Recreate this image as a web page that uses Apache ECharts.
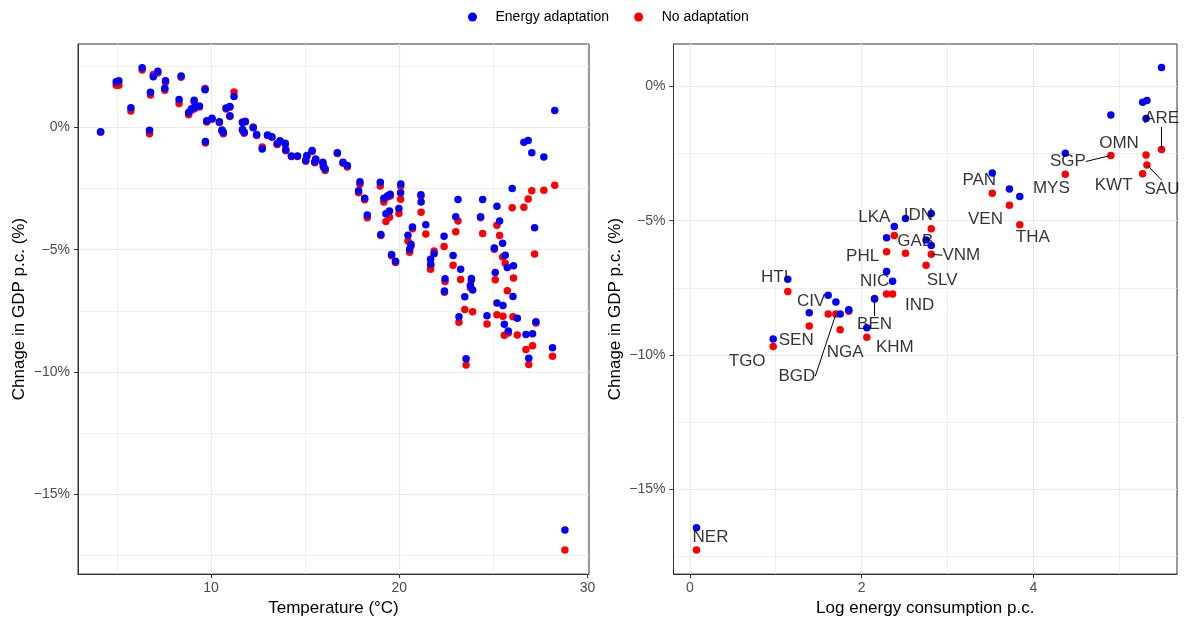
<!DOCTYPE html>
<html><head><meta charset="utf-8">
<script src="https://cdn.jsdelivr.net/npm/echarts@6/dist/echarts.min.js"></script>
<style>html,body{margin:0;padding:0;background:#fff}#c{width:1184px;height:622px}</style>
</head><body><div id="c"></div>
<script>
// ---- Left panel: temperature vs change in GDP p.c. (%) ----
const tempC = [4.13,4.96,5.10,5.74,6.34,6.73,6.78,6.93,7.17,7.58,7.54,8.41,8.30,8.81,8.96,9.10,9.12,9.38,9.68,9.70,
  9.77,10.05,10.44,10.58,10.65,10.80,11.00,11.00,11.22,11.67,11.82,11.67,11.76,12.24,12.42,12.72,13.00,13.23,13.51,13.66,
  13.94,13.97,14.27,14.59,15.03,15.09,15.37,15.51,15.56,15.94,15.97,16.06,16.71,17.01,17.24,17.91,17.84,18.16,18.30,18.99,
  19.18,19.38,19.52,19.29,19.48,19.02,20.08,20.07,19.98,19.59,19.80,21.15,21.16,20.70,20.46,20.62,20.55,21.41,21.66,21.85,
  21.67,22.38,22.86,22.43,22.40,23.26,23.12,23.00,23.83,23.78,23.90,23.48,23.17,23.55,24.43,24.32,24.66,25.19,25.33,25.05,
  25.49,25.63,25.74,26.07,25.10,26.04,25.19,25.51,26.27,25.58,25.79,26.73,27.08,27.26,26.88,28.14,27.19,28.26,27.68,27.04,
  26.85,26.62,26.00,28.80];
const tempEnergyAdapt = [-0.18,1.87,1.91,0.80,2.44,-0.12,1.44,2.07,2.30,1.91,1.60,2.10,1.14,0.61,0.76,1.11,0.81,0.88,1.54,-0.58,
  0.27,0.37,0.23,-0.11,-0.20,0.79,0.86,0.48,1.26,0.20,0.23,-0.09,-0.20,-0.01,-0.29,-0.88,-0.31,-0.38,-0.66,-0.54,
  -0.65,-0.91,-1.17,-1.17,-1.34,-1.15,-0.94,-1.40,-1.29,-1.42,-1.59,-1.69,-1.04,-1.42,-1.56,-2.22,-2.59,-2.90,-3.58,-2.24,
  -2.90,-2.79,-2.73,-3.53,-3.42,-4.38,-2.31,-2.67,-3.31,-5.19,-5.47,-2.75,-3.05,-4.07,-4.41,-4.78,-4.98,-3.98,-5.39,-5.16,
  -5.59,-4.45,-5.24,-6.19,-6.69,-5.80,-2.95,-3.65,-6.18,-6.45,-6.65,-6.92,-7.74,-9.46,-2.95,-3.65,-7.70,-3.22,-3.83,-4.93,
  -4.74,-5.23,-5.73,-5.66,-5.93,-6.91,-7.18,-7.28,-7.80,-8.05,-8.32,-8.47,-8.43,-7.94,-9.44,-9.01,-4.10,0.69,-1.21,-1.04,
  -0.53,-0.61,-2.50,-16.46];
const tempNoAdapt = [-0.20,1.72,1.72,0.67,2.35,-0.26,1.33,2.16,2.22,1.85,1.52,2.05,0.98,0.52,0.70,1.05,0.76,0.83,1.59,-0.64,
  0.22,0.33,0.20,-0.15,-0.26,0.75,0.82,0.45,1.45,0.22,0.25,-0.12,-0.24,0.02,-0.33,-0.80,-0.33,-0.40,-0.70,-0.58,
  -0.70,-0.95,-1.19,-1.19,-1.38,-1.18,-0.98,-1.44,-1.32,-1.46,-1.63,-1.76,-1.07,-1.46,-1.62,-2.32,-2.67,-2.96,-3.69,-2.39,
  -3.05,-2.84,-2.80,-3.85,-3.67,-4.42,-2.40,-2.94,-3.52,-5.25,-5.52,-2.80,-3.47,-4.14,-4.64,-4.85,-5.10,-4.36,-5.80,-5.05,
  -5.65,-4.87,-5.63,-6.30,-6.74,-6.22,-3.83,-4.26,-6.25,-6.55,-7.54,-7.44,-7.96,-9.71,-4.34,-3.69,-8.04,-4.00,-4.42,-4.98,
  -5.30,-5.55,-6.68,-6.16,-6.23,-7.74,-7.66,-7.72,-8.49,-8.50,-8.40,-9.08,-8.93,-8.00,-9.69,-9.35,-5.17,-2.36,-2.57,-2.59,
  -2.93,-3.26,-3.28,-17.27];

// ---- Right panel: log energy consumption vs change in GDP p.c. (%) ----
const countryCodes = ['NER','TGO','HTI','SEN','CIV','BGD','NGA','','KHM','BEN','IND','PHL','NIC','LKA','IDN','SLV','GAB','VNM',
  'PAN','VEN','THA','MYS','SGP','KWT','OMN','SAU','ARE'];
const logEnergy = [0.078,0.97,1.14,1.39,1.61,1.70,1.75,1.85,2.06,2.15,2.29,2.29,2.36,2.38,2.51,2.75,2.81,2.81,
  3.52,3.72,3.84,4.37,4.90,5.27,5.31,5.32,5.49];
const energyAdapt = [-16.44,-9.41,-7.18,-8.43,-7.78,-8.03,-8.48,-8.32,-8.99,-7.92,-6.89,-5.64,-7.26,-5.22,-4.92,-5.72,-4.73,-5.92,
  -3.22,-3.82,-4.10,-2.49,-1.06,-0.59,-1.19,-0.52,0.71];
const noAdapt = [-17.27,-9.69,-7.64,-8.92,-8.48,-8.48,-9.06,-8.37,-9.34,-7.90,-7.73,-6.16,-7.73,-5.55,-6.21,-6.66,-5.30,-6.25,
  -3.98,-4.42,-5.15,-3.27,-2.57,-3.25,-2.55,-2.92,-2.35];

// tick labels
const xTicksLeft = [10, 20, 30];
const xTicksRight = [0, 2, 4];
const yTicks = [-15, -10, -5, 0];

// label placement (pixel offsets from the point) and which labels get a leader line
const labelOffsets = {NER:[14,-13],TGO:[-26,15],HTI:[-13,-14],SEN:[-13,14],CIV:[-17,-13],BGD:[-39,62],NGA:[5,23],
  KHM:[28,10],BEN:[0,26],IND:[33,11],PHL:[-24,4],NIC:[-18,-13],LKA:[-20,-18],IDN:[13,-38],SLV:[16,15],GAB:[-16,13],
  VNM:[30,1],PAN:[-13,-13],VEN:[-24,14],THA:[13,13],MYS:[-14,14],SGP:[-43,6],KWT:[-29,12],OMN:[-27,-12],SAU:[15,24],ARE:[0,-31]};
const withLine = ['BGD','BEN','VNM','SGP','SAU','ARE'];

const FONT = '"Liberation Sans", Arial, Helvetica, sans-serif';
const BLUE = '#0000ff', RED = '#ff0000';
const fmtPct = v => (v < 0 ? '\u2212' + Math.abs(v) : String(v)) + '%';

function makeX(gridIndex, min, max, splitNumber, ticks, name) {
  return {
    type: 'value', gridIndex, min, max, splitNumber,
    name, nameLocation: 'middle', nameGap: 22,
    nameTextStyle: {fontSize: 17, color: '#000', fontFamily: FONT},
    axisLine: {show: true, onZero: false, lineStyle: {color: '#333', width: 1}},
    axisTick: {show: true, length: 4, lineStyle: {color: '#333', width: 1}, customValues: ticks},
    axisLabel: {fontSize: 14, color: '#4d4d4d', margin: 7, fontFamily: FONT, customValues: ticks},
    splitLine: {show: true, lineStyle: {color: '#ebebeb', width: 1.1}},
    minorTick: {show: false, splitNumber: 2},
    minorSplitLine: {show: true, lineStyle: {color: '#ebebeb', width: 0.8}}
  };
}
function makeY(gridIndex, min, max) {
  return {
    type: 'value', gridIndex, min, max, splitNumber: 4,
    name: 'Chnage in GDP p.c. (%)', nameLocation: 'middle', nameGap: 50,
    nameTextStyle: {fontSize: 17, color: '#000', fontFamily: FONT},
    axisLine: {show: true, onZero: false, lineStyle: {color: '#333', width: 1}},
    axisTick: {show: true, length: 4, lineStyle: {color: '#333', width: 1}, customValues: yTicks},
    axisLabel: {fontSize: 14, color: '#4d4d4d', margin: 8, fontFamily: FONT, customValues: yTicks, formatter: fmtPct},
    splitLine: {show: true, lineStyle: {color: '#ebebeb', width: 1.1}},
    minorTick: {show: false, splitNumber: 2},
    minorSplitLine: {show: true, lineStyle: {color: '#ebebeb', width: 0.8}}
  };
}

const labelIdx = countryCodes.map((c, i) => i).filter(i => countryCodes[i] !== '');
const labelData = labelIdx.map(i => {
  const code = countryCodes[i];
  const item = {value: [logEnergy[i], noAdapt[i]], name: code};
  if (withLine.indexOf(code) >= 0) {
    item.labelLine = {show: true, lineStyle: {color: '#000', width: 1}};
  }
  return item;
});

const chart = echarts.init(document.getElementById('c'), null, {renderer: 'canvas'});
chart.setOption({
  animation: false,
  backgroundColor: '#fff',
  textStyle: {fontFamily: FONT},
  legend: {
    data: ['Energy adaptation', 'No adaptation'],
    left: 463, top: 5, itemWidth: 36, itemHeight: 9, itemGap: 25, icon: 'circle',
    itemStyle: {opacity: 1},
    textStyle: {fontSize: 14, color: '#000', fontFamily: FONT}
  },
  grid: [
    {left: 78, top: 44, width: 511, height: 532, show: true, borderColor: '#333', borderWidth: 1, backgroundColor: '#fff'},
    {left: 673.5, top: 44, width: 503.5, height: 532, show: true, borderColor: '#333', borderWidth: 1, backgroundColor: '#fff'}
  ],
  xAxis: [
    makeX(0, 2.93, 30.08, 3, xTicksLeft, 'Temperature (\u00b0C)'),
    makeX(1, -0.19, 5.67, 3, xTicksRight, 'Log energy consumption p.c.')
  ],
  yAxis: [makeY(0, -18.26, 3.41), makeY(1, -18.17, 1.585)],
  series: [
    {type: 'scatter', name: 'No adaptation', xAxisIndex: 0, yAxisIndex: 0, symbolSize: 7.5,
      itemStyle: {color: RED, opacity: 1}, silent: true, data: tempC.map((t, i) => [t, tempNoAdapt[i]])},
    {type: 'scatter', name: 'Energy adaptation', xAxisIndex: 0, yAxisIndex: 0, symbolSize: 7.5,
      itemStyle: {color: BLUE, opacity: 1}, silent: true, data: tempC.map((t, i) => [t, tempEnergyAdapt[i]])},
    {type: 'scatter', name: 'No adaptation', xAxisIndex: 1, yAxisIndex: 1, symbolSize: 7.5,
      itemStyle: {color: RED, opacity: 1}, silent: true, data: logEnergy.map((x, i) => [x, noAdapt[i]])},
    {type: 'scatter', name: 'Energy adaptation', xAxisIndex: 1, yAxisIndex: 1, symbolSize: 7.5,
      itemStyle: {color: BLUE, opacity: 1}, silent: true, data: logEnergy.map((x, i) => [x, energyAdapt[i]])},
    {type: 'scatter', name: 'labels', xAxisIndex: 1, yAxisIndex: 1, symbolSize: 1, silent: true, z: 5,
      itemStyle: {color: 'rgba(0,0,0,0)'},
      label: {show: true, position: 'inside', align: 'center', verticalAlign: 'middle',
        formatter: p => p.name, fontSize: 17, color: '#000', fontFamily: FONT},
      labelLine: {show: false},
      labelLayout: p => {
        const code = countryCodes[labelIdx[p.dataIndex]];
        const o = labelOffsets[code] || [0, 0];
        return {dx: o[0], dy: o[1]};
      },
      data: labelData}
  ]
});
</script>
</body></html>
